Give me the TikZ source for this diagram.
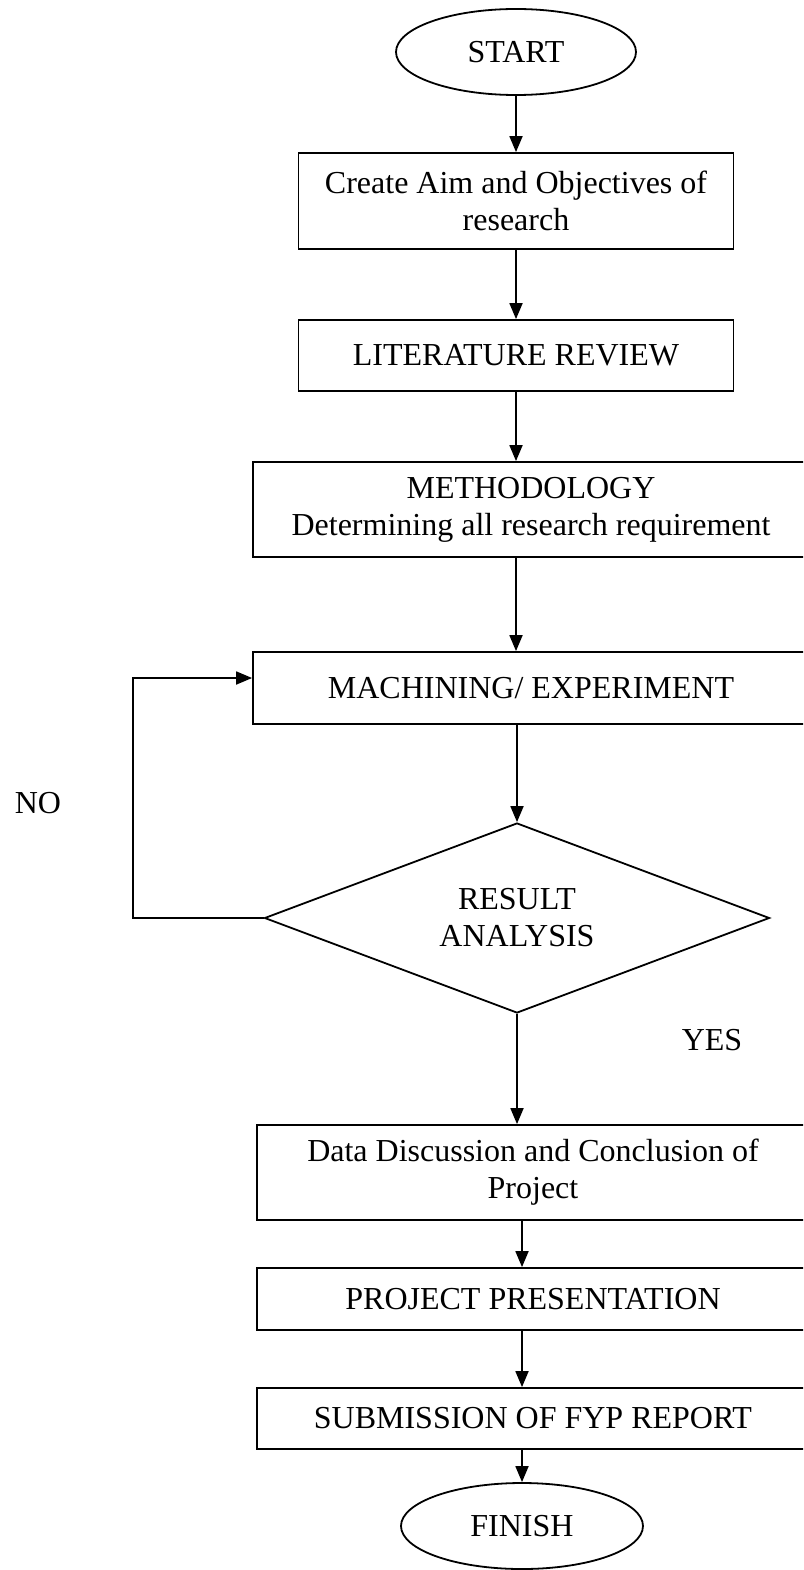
\documentclass[tikz,border=0pt]{standalone}
\usepackage{fontspec}
\setmainfont{Liberation Serif}
\usetikzlibrary{shapes.geometric,arrows.meta}

\begin{document}
\begin{tikzpicture}[x=1pt,y=1pt,yscale=-1,xscale=1,
  font=\fontsize{32}{37}\selectfont,
  line width=1.8pt,
  procbox/.style={draw,rectangle,align=center,inner sep=0pt},
  termnode/.style={draw,ellipse,inner sep=0pt},
  decision/.style={draw,diamond,align=center,inner sep=0pt,aspect=2.66},
  flow/.style={-{Triangle[length=16pt,width=13pt]}}]
\useasboundingbox (0,0) rectangle (803,1570);
\clip (0,0) rectangle (803,1570);

%Terminal: start
\node[termnode,minimum width=240,minimum height=86] (start) at (516,52) {START};
%Boxes
\node[procbox,minimum width=435,minimum height=96] (aim) at (516,201) {Create Aim and Objectives of\\research};
\node[procbox,minimum width=435,minimum height=71] (lit) at (516,355.5) {LITERATURE REVIEW};
\node[procbox,minimum width=556,minimum height=95] (meth) at (531,509.5) {METHODOLOGY\\Determining all research requirement};
\node[procbox,minimum width=556,minimum height=72] (mach) at (531,688) {MACHINING/ EXPERIMENT};
%Decision
\node[decision,minimum width=505,minimum height=190] (dia) at (517,918) {RESULT\\ANALYSIS};
%Boxes after decision
\node[procbox,minimum width=552,minimum height=95] (data) at (533,1172.5) {Data Discussion and Conclusion of\\Project};
\node[procbox,minimum width=552,minimum height=62] (pres) at (533,1299) {PROJECT PRESENTATION};
\node[procbox,minimum width=552,minimum height=61] (sub) at (533,1418.5) {SUBMISSION OF FYP REPORT};
%Terminal: finish
\node[termnode,minimum width=242,minimum height=86] (fin) at (522,1526) {FINISH};

%Labels
\node (no) at (38,803) {NO};
\node (yes) at (712,1040) {YES};

%Connectors
\draw[flow] (start) -- (aim);
\draw[flow] (aim) -- (lit);
\draw[flow] (lit.south) -- (lit.south |- meth.north);
\draw[flow] (meth.south -| lit.south) -- (mach.north -| lit.south);
\draw[flow] (mach.south -| dia.north) -- (dia.north);
\draw[flow] (dia.south) -- (dia.south |- data.north);
\draw[flow] (data.south -| fin.north) -- (pres.north -| fin.north);
\draw[flow] (pres.south -| fin.north) -- (sub.north -| fin.north);
\draw[flow] (sub.south -| fin.north) -- (fin.north);
%NO loop back
\coordinate (loop) at (133,678);
\draw[flow] (dia.west) -| (loop) -- (loop -| mach.west);
\end{tikzpicture}
\end{document}
